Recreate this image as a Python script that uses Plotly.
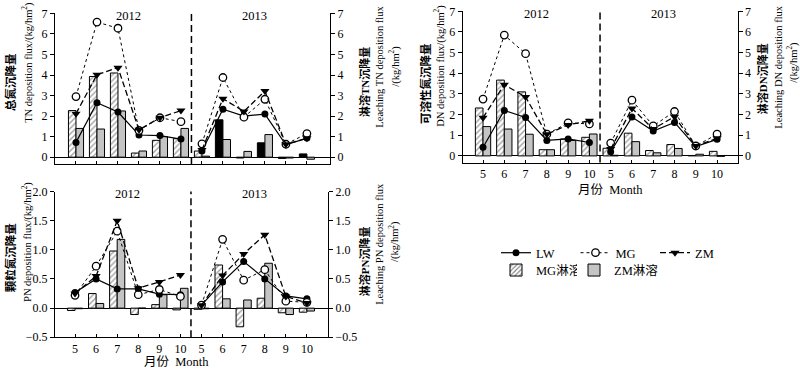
import plotly.graph_objects as go

# ---------------- data ----------------
months = ["5", "6", "7", "8", "9", "10"]
tick_labels = months + months
years = ["2012", "2013"]
positions = list(range(12))

# TN (total nitrogen) deposition, kg/hm2
tn_lw = [0.72, 2.65, 2.2, 1.08, 1.05, 0.88, 0.3, 2.34, 2.0, 2.1, 0.6, 0.93]
tn_mg = [2.95, 6.58, 6.28, 1.3, 1.92, 1.73, 0.65, 3.88, 1.95, 2.82, 0.63, 1.15]
tn_zm = [2.12, 4.02, 4.36, 1.33, 1.92, 2.27, 0.35, 2.85, 2.23, 3.22, 0.63, 0.92]
tn_mg_leach = [2.27, 3.93, 4.1, 0.2, 0.82, 0.9, 0.3, 1.82, -0.04, 0.7, -0.06, 0.16]
tn_zm_leach = [1.4, 1.37, 2.25, 0.3, 1.0, 1.4, 0.05, 0.86, 0.28, 1.1, -0.04, -0.1]

# DN (dissolved nitrogen) deposition
dn_lw = [0.42, 2.2, 1.86, 0.75, 0.82, 0.65, 0.2, 1.88, 1.2, 1.62, 0.45, 0.8]
dn_mg = [2.75, 5.85, 4.95, 1.05, 1.6, 1.55, 0.62, 2.7, 1.45, 2.15, 0.48, 1.05]
dn_zm = [1.85, 3.45, 2.85, 1.05, 1.5, 1.7, 0.33, 2.3, 1.3, 1.9, 0.48, 0.85]
dn_mg_leach = [2.32, 3.67, 3.1, 0.3, 0.82, 0.9, 0.37, 1.1, 0.26, 0.55, 0.02, 0.22]
dn_zm_leach = [1.42, 1.3, 1.05, 0.3, 0.75, 1.06, 0.03, 0.69, 0.15, 0.36, 0.08, -0.02]

# PN (particulate nitrogen) deposition
pn_lw = [0.27, 0.5, 0.33, 0.33, 0.24, 0.23, 0.05, 0.45, 0.8, 0.5, 0.21, 0.16]
pn_mg = [0.22, 0.72, 1.32, 0.23, 0.32, 0.2, 0.05, 1.18, 0.48, 0.66, 0.12, 0.1]
pn_zm = [0.25, 0.55, 1.5, 0.34, 0.45, 0.57, 0.05, 0.56, 0.93, 1.26, 0.2, 0.09]
pn_mg_leach = [-0.04, 0.25, 0.98, -0.11, 0.06, -0.03, -0.02, 0.74, -0.32, 0.17, -0.08, -0.07]
pn_zm_leach = [-0.01, 0.08, 1.18, 0.0, 0.23, 0.34, -0.01, 0.16, 0.14, 0.77, -0.11, -0.05]

# ---------------- styling ----------------
W, H = 800, 377
SERIF = "Liberation Serif, Times New Roman, Noto Sans CJK SC, serif"
TICKFONT = dict(family=SERIF, size=12, color="black")


def px_x(p):
    return p / W


def px_y(p):
    return 1 - p / H


def split_years(vals):
    return vals[:6] + [None] + vals[6:]


x_line = positions[:6] + [5.5] + positions[6:]

panels = [
    dict(xa="x", yb="y", yo="y2", lw=tn_lw, mg=tn_mg, zm=tn_zm, mgl=tn_mg_leach, zml=tn_zm_leach,
         xd=(55, 330), yd=(6.7, 163), yr=(-0.33, 7), xr=(-1.0, 12.1), dtick=1, fmt="d", labels=False,
         solid=[False] * 7 + [True] * 5),
    dict(xa="x2", yb="y3", yo="y4", lw=dn_lw, mg=dn_mg, zm=dn_zm, mgl=dn_mg_leach, zml=dn_zm_leach,
         xd=(462.7, 737.7), yd=(4.5, 161.5), yr=(-0.32, 7), xr=(-0.955, 11.97), dtick=1, fmt="d", labels=True,
         solid=[False] * 12),
    dict(xa="x3", yb="y5", yo="y6", lw=pn_lw, mg=pn_mg, zm=pn_zm, mgl=pn_mg_leach, zml=pn_zm_leach,
         xd=(55, 328), yd=(191.7, 343), yr=(-0.5, 2.0), xr=(-0.95, 12.0), dtick=0.5, fmt=".1f", labels=True,
         solid=[False] * 12),
]

fig = go.Figure()
layout = dict(
    width=W, height=H, margin=dict(l=0, r=0, t=0, b=0),
    paper_bgcolor="white", plot_bgcolor="rgba(0,0,0,0)",
    barmode="group", bargap=0.28, bargroupgap=0,
    font=dict(family=SERIF, size=12, color="black"),
)
shapes = []
annotations = []

for i, p in enumerate(panels):
    first = i == 0
    xa, yb, yo = p["xa"], p["yb"], p["yo"]
    mg_colors = ["black" if s else "white" for s in p["solid"]]
    mg_shapes = ["" if s else "/" for s in p["solid"]]
    fig.add_trace(go.Bar(
        x=positions, y=p["mgl"], name="MG淋溶", xaxis=xa, yaxis=yb,
        marker=dict(color=mg_colors, line=dict(color="black", width=1),
                    pattern=dict(shape=mg_shapes, fgcolor="black", size=4, solidity=0.35, fillmode="overlay")),
        showlegend=first, legend="legend2",
    ))
    fig.add_trace(go.Bar(
        x=positions, y=p["zml"], name="ZM淋溶", xaxis=xa, yaxis=yb,
        marker=dict(color="#c4c4c4", line=dict(color="black", width=1)),
        showlegend=first, legend="legend3",
    ))
    fig.add_trace(go.Scatter(
        x=x_line, y=split_years(p["lw"]), name="LW", xaxis=xa, yaxis=yo, mode="lines+markers",
        line=dict(color="black", width=1.2, dash="solid"),
        marker=dict(symbol="circle", size=7, color="black"),
        showlegend=first, legend="legend", legendrank=1, connectgaps=False,
    ))
    fig.add_trace(go.Scatter(
        x=x_line, y=split_years(p["mg"]), name="MG", xaxis=xa, yaxis=yo, mode="lines+markers",
        line=dict(color="black", width=1, dash="dot"),
        marker=dict(symbol="circle", size=7.5, color="white", line=dict(color="black", width=1.3)),
        showlegend=first, legend="legend", legendrank=2, connectgaps=False,
    ))
    fig.add_trace(go.Scatter(
        x=x_line, y=split_years(p["zm"]), name="ZM", xaxis=xa, yaxis=yo, mode="lines+markers",
        line=dict(color="black", width=1.3, dash="6px,3px"),
        marker=dict(symbol="triangle-down", size=8, color="black"),
        showlegend=first, legend="legend", legendrank=3, connectgaps=False,
    ))

    xkey = "xaxis" + xa[1:]
    ybkey = "yaxis" + yb[1:]
    yokey = "yaxis" + yo[1:]
    xdom = [px_x(p["xd"][0]), px_x(p["xd"][1])]
    ydom = [px_y(p["yd"][1]), px_y(p["yd"][0])]
    layout[xkey] = dict(
        domain=xdom, anchor=yb, range=list(p["xr"]), tickvals=positions, ticktext=tick_labels,
        showticklabels=p["labels"], ticks="inside", ticklen=3, tickcolor="black",
        showline=True, linecolor="black", linewidth=1, showgrid=False, zeroline=False,
        tickfont=TICKFONT,
    )
    common_y = dict(
        domain=ydom, range=list(p["yr"]), dtick=p["dtick"], tick0=0, tickformat=p["fmt"],
        ticks="outside", ticklen=4, tickcolor="black", showline=True, linecolor="black", linewidth=1,
        showgrid=False, tickfont=TICKFONT,
    )
    layout[ybkey] = dict(common_y, anchor=xa, side="right",
                         zeroline=True, zerolinecolor="black", zerolinewidth=1)
    layout[yokey] = dict(common_y, anchor=xa, side="left", overlaying=yb, zeroline=False)

    shapes.append(dict(type="line", xref=xa, yref=yb + " domain", x0=5.5, x1=5.5, y0=0, y1=1,
                       line=dict(color="black", width=1.5, dash="7px,4px")))
    for k, yr in enumerate(years):
        annotations.append(dict(text=yr, xref=xa, yref="paper", x=2.5 + 6 * k,
                                y=px_y(p["yd"][0] + 3), yanchor="middle", showarrow=False,
                                font=dict(family=SERIF, size=12.5, color="black")))


def title_line(text, cx, cy, size):
    annotations.append(dict(text=text, xref="paper", yref="paper", x=px_x(cx), y=px_y(cy),
                            xanchor="center", yanchor="middle", textangle=-90, showarrow=False,
                            font=dict(family=SERIF, size=size, color="black")))


KG = "/(kg/hm<sup>2</sup>)"
title_line("<b>总氮沉降量</b>", 10, 78, 11.5)
title_line("TN deposition flux" + KG, 27, 58, 10.5)
title_line("<b>淋溶TN沉降量</b>", 364, 78, 11)
title_line("Leaching TN deposition flux", 380, 62, 10.5)
title_line(KG, 394, 62, 10.5)
title_line("<b>可溶性氮沉降量</b>", 425, 80, 11.5)
title_line("DN deposition flux" + KG, 439, 61, 10.5)
title_line("<b>淋溶DN沉降量</b>", 762, 75, 11)
title_line("Leaching DN deposition flux", 779, 62, 10.5)
title_line(KG, 792, 58, 10.5)
title_line("<b>颗粒氮沉降量</b>", 10, 261, 11.5)
title_line("PN deposition flux" + KG, 27, 244, 10.5)
title_line("<b>淋溶PN沉降量</b>", 364, 264, 11)
title_line("Leaching PN deposition flux", 380, 246, 10.5)
title_line(KG, 394, 244, 10.5)

# month axis titles
MONTH_TITLE = "月份&nbsp; Month"
annotations.append(dict(text=MONTH_TITLE, xref="paper", yref="paper", x=px_x(176), y=0,
                        xanchor="center", yanchor="bottom", showarrow=False, borderpad=0,
                        font=dict(family=SERIF, size=12.5, color="black")))
annotations.append(dict(text=MONTH_TITLE, xref="paper", yref="paper", x=px_x(610), y=px_y(190),
                        xanchor="center", yanchor="middle", showarrow=False, borderpad=0,
                        font=dict(family=SERIF, size=12.5, color="black")))

layout["shapes"] = shapes
layout["annotations"] = annotations
leg_common = dict(orientation="h", xanchor="left", yanchor="top", entrywidthmode="pixels",
                  font=dict(family=SERIF, size=12.5), bgcolor="rgba(0,0,0,0)",
                  traceorder="normal", itemwidth=30)
layout["legend"] = dict(leg_common, x=px_x(496), y=px_y(240), entrywidth=34.5)
layout["legend2"] = dict(leg_common, x=px_x(496), y=px_y(258), entrywidth=36)
layout["legend3"] = dict(leg_common, x=px_x(574), y=px_y(258), entrywidth=50)

fig.update_layout(**layout)
fig.write_html("out.html", config={"displayModeBar": False},
               post_script="document.body.style.margin='0px';")
